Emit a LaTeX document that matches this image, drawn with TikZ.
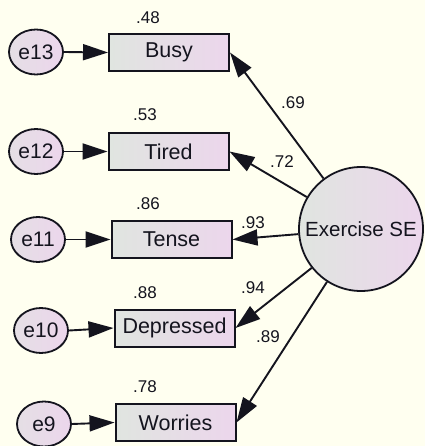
\documentclass[tikz,border=0pt]{standalone}
\usepackage{fontspec}
\setmainfont{Liberation Sans}
\usetikzlibrary{arrows.meta,shapes.geometric}
\definecolor{bg}{RGB}{255,255,240}
\definecolor{shadeA}{RGB}{224,229,224}
\definecolor{shadeB}{RGB}{236,214,236}
\definecolor{ink}{RGB}{20,20,30}
\tikzset{
  obs/.style={draw=ink, line width=2pt, rectangle, minimum width=120pt, minimum height=37pt,
    inner sep=0pt, left color=shadeA, right color=shadeB, text=ink,
    font=\fontsize{21.5}{23}\selectfont},
  err/.style={draw=ink, line width=1.8pt, ellipse, minimum width=54pt, minimum height=45pt,
    inner sep=0pt, left color=shadeA!60!shadeB, right color=shadeB, text=ink,
    font=\fontsize{21}{23}\selectfont},
  lat/.style={draw=ink, line width=1.8pt, circle, minimum size=124pt, inner sep=0pt,
    shading=axis, shading angle=135, left color=shadeA, right color=shadeB, text=ink,
    font=\fontsize{20.5}{23}\selectfont},
  reg/.style={draw=ink, line width=1.9pt, -{Triangle[length=25pt,width=16pt]}},
  coef/.style={text=ink, font=\fontsize{17}{19}\selectfont, inner sep=0pt}
}
\begin{document}
\begin{tikzpicture}[x=1pt,y=-1pt]
  \useasboundingbox (0,0) rectangle (425,446);
  \fill[bg] (0,0) rectangle (425,446);

  % latent factor
  \node[lat] (ex) at (361,229) {Exercise SE};

  % indicators
  \node[obs] (busy) at (169,52.5) {Busy};
  \node[obs] (tired) at (168.5,151.5) {Tired};
  \node[obs] (tense) at (171.5,239.5) {Tense};
  \node[obs] (dep) at (174.5,328) {Depressed};
  \node[obs] (wor) at (175.5,422.5) {Worries};

  % error terms
  \node[err] (e13) at (36,52) {e13};
  \node[err] (e12) at (36,151.5) {e12};
  \node[err] (e11) at (38,239.5) {e11};
  \node[err] (e10) at (41,330.5) {e10};
  \node[err] (e9) at (44,424) {e9};

  % error paths
  \draw[reg] (e13.east) -- (busy.west);
  \draw[reg] (e12.east) -- (tired.west);
  \draw[reg] (e11.east) -- (tense.west);
  \draw[reg] (e10.east) -- (dep.west);
  \draw[reg] (e9.east) -- (wor.west);

  % loadings
  \draw[reg] (ex) -- (busy.east);
  \draw[reg] (ex) -- (tired.east);
  \draw[reg] (ex) -- (tense.east);
  \draw[reg] (ex) -- (dep.east);
  \draw[reg] (ex) -- (wor.east);

  % squared multiple correlations
  \node[coef] (r13) at (148,18) {.48};
  \node[coef] (r12) at (145,115) {.53};
  \node[coef] (r11) at (148,204) {.86};
  \node[coef] (r10) at (145,293) {.88};
  \node[coef] (r9) at (145,387) {.78};

  % standardized loadings
  \node[coef] (l1) at (293,103) {.69};
  \node[coef] (l2) at (282,162) {.72};
  \node[coef] (l3) at (253,223) {.93};
  \node[coef] (l4) at (253,288) {.94};
  \node[coef] (l5) at (268,337) {.89};
\end{tikzpicture}
\end{document}
